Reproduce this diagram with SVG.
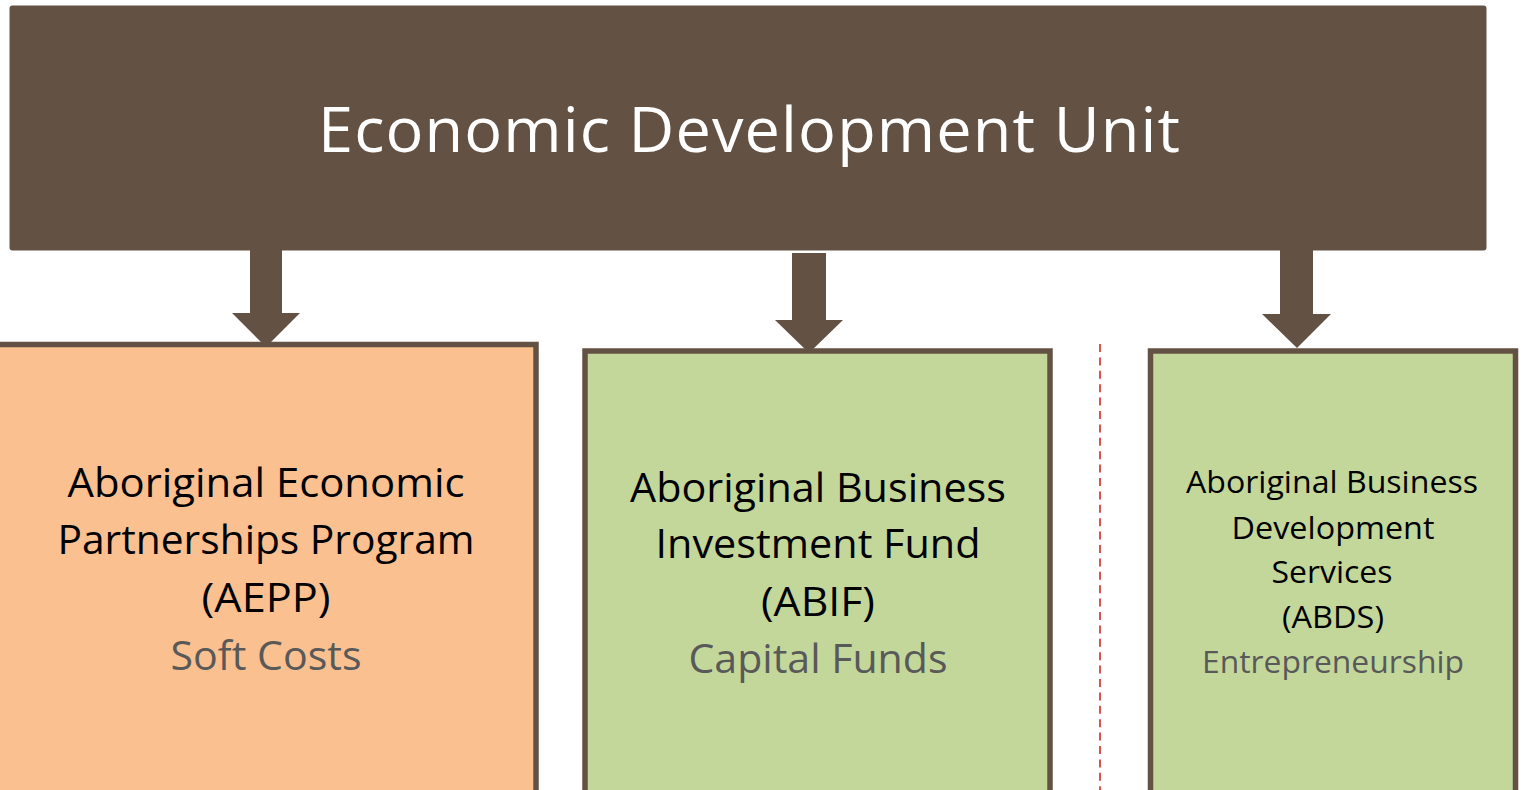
<svg xmlns="http://www.w3.org/2000/svg" width="1522" height="790" viewBox="0 0 1522 790">
  <style>
    .unit { fill: #635244; }
    .prog { stroke: #635244; stroke-width: 5.5; }
    .orange { fill: #FAC090; }
    .green { fill: #C4D79B; }
    .arrow { fill: #635244; }
    .title { font-family: "Open Sans", "Noto Sans", sans-serif; fill: #ffffff; font-size: 63px; text-anchor: middle; }
    .name { font-family: "Open Sans", "Noto Sans", sans-serif; fill: #000000; text-anchor: middle; }
    .sub { font-family: "Open Sans", "Noto Sans", sans-serif; fill: #595959; text-anchor: middle; }
    .big { font-size: 39.5px; }
    .small { font-size: 31px; }
    .divider { stroke: #D9534F; stroke-width: 2; stroke-dasharray: 8 5.4; fill: none; }
  </style>

  <!-- top-level unit -->
  <g id="unit">
    <rect class="unit" x="9.5" y="5.5" width="1477" height="245" rx="3"/>
    <text class="title" x="749" y="152" textLength="862">Economic Development Unit</text>
  </g>

  <!-- programs -->
  <g id="aepp">
    <rect class="prog orange" x="-4.5" y="344.5" width="540.5" height="460"/>
    <text class="name big" x="266" y="497" textLength="397" lengthAdjust="spacingAndGlyphs">Aboriginal Economic</text>
    <text class="name big" x="266" y="554" textLength="417" lengthAdjust="spacingAndGlyphs">Partnerships Program</text>
    <text class="name big" x="266" y="612" textLength="129" lengthAdjust="spacingAndGlyphs">(AEPP)</text>
    <text class="sub big" x="266" y="670" textLength="191" lengthAdjust="spacingAndGlyphs">Soft Costs</text>
  </g>

  <g id="abif">
    <rect class="prog green" x="585" y="351" width="465" height="460"/>
    <text class="name big" x="818" y="502" textLength="376" lengthAdjust="spacingAndGlyphs">Aboriginal Business</text>
    <text class="name big" x="818" y="558" textLength="325" lengthAdjust="spacingAndGlyphs">Investment Fund</text>
    <text class="name big" x="818" y="616" textLength="114" lengthAdjust="spacingAndGlyphs">(ABIF)</text>
    <text class="sub big" x="818" y="673" textLength="259" lengthAdjust="spacingAndGlyphs">Capital Funds</text>
  </g>

  <g id="abds">
    <rect class="prog green" x="1150.5" y="351" width="365" height="460"/>
    <text class="name small" x="1332" y="493" textLength="292" lengthAdjust="spacingAndGlyphs">Aboriginal Business</text>
    <text class="name small" x="1333" y="539" textLength="203" lengthAdjust="spacingAndGlyphs">Development</text>
    <text class="name small" x="1332" y="583" textLength="121" lengthAdjust="spacingAndGlyphs">Services</text>
    <text class="name small" x="1333" y="628" textLength="102" lengthAdjust="spacingAndGlyphs">(ABDS)</text>
    <text class="sub small" x="1333" y="673" textLength="262" lengthAdjust="spacingAndGlyphs">Entrepreneurship</text>
  </g>

  <!-- dashed separator -->
  <line class="divider" x1="1100" y1="344" x2="1100" y2="790"/>

  <!-- connectors -->
  <g id="connectors">
    <polygon class="arrow" points="250,249 282,249 282,313 300,313 266,347 232,313 250,313"/>
    <polygon class="arrow" points="792,253 826,253 826,320 843,320 809,353 775,320 792,320"/>
    <polygon class="arrow" points="1280,249 1313,249 1313,314 1331,314 1297,348 1262,314 1280,314"/>
  </g>
</svg>
